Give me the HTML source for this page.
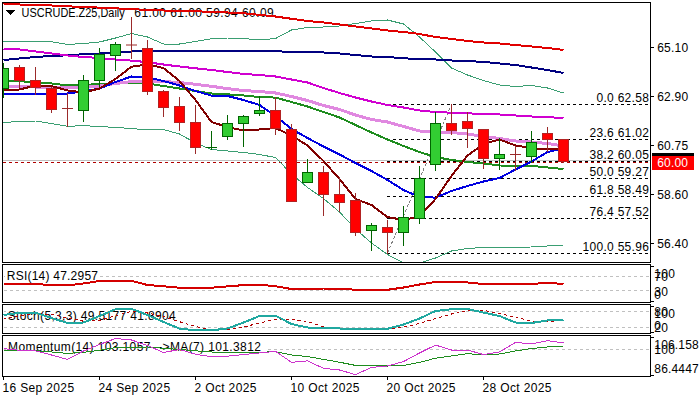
<!DOCTYPE html><html><head><meta charset="utf-8"><title>USCRUDE.Z25 Daily</title><style>html,body{margin:0;padding:0;background:#fff;overflow:hidden}svg{display:block}text{font-family:"Liberation Sans", Arial, sans-serif;font-size:12px;fill:#000;white-space:pre}</style></head><body>
<svg xmlns="http://www.w3.org/2000/svg" shape-rendering="crispEdges" width="700" height="400" viewBox="0 0 700 400">
<rect x="0" y="0" width="700" height="400" fill="#fff"/>
<defs><clipPath id="cm"><rect x="3" y="3" width="647" height="259"/></clipPath><clipPath id="cr"><rect x="3" y="265" width="647" height="37"/></clipPath><clipPath id="cs"><rect x="3" y="305" width="647" height="28"/></clipPath><clipPath id="cmo"><rect x="3" y="336" width="647" height="40"/></clipPath></defs>
<path d="M6,10 L15,10 L10.5,15 Z" fill="#000"/>
<text x="21.60" y="16.6" textLength="103.10" lengthAdjust="spacingAndGlyphs">USCRUDE.Z25,Daily</text>
<text x="134.30" y="16.5" letter-spacing="0.421">61.00 61.00 59.94 60.09</text>
<g clip-path="url(#cm)">
<line x1="3" y1="160.5" x2="650" y2="160.5" stroke="#c0c0c0" stroke-width="1"/>
<line x1="3" y1="162.5" x2="650" y2="162.5" stroke="#b00000" stroke-width="1" stroke-dasharray="3,3"/>
<line x1="387" y1="104.5" x2="650" y2="104.5" stroke="#000" stroke-width="1" stroke-dasharray="3,3"/>
<line x1="387" y1="139.5" x2="650" y2="139.5" stroke="#000" stroke-width="1" stroke-dasharray="3,3"/>
<line x1="387" y1="161.5" x2="650" y2="161.5" stroke="#000" stroke-width="1" stroke-dasharray="3,3"/>
<line x1="387" y1="178.5" x2="650" y2="178.5" stroke="#000" stroke-width="1" stroke-dasharray="3,3"/>
<line x1="387" y1="196.5" x2="650" y2="196.5" stroke="#000" stroke-width="1" stroke-dasharray="3,3"/>
<line x1="387" y1="218.5" x2="650" y2="218.5" stroke="#000" stroke-width="1" stroke-dasharray="3,3"/>
<line x1="387" y1="253.5" x2="650" y2="253.5" stroke="#000" stroke-width="1" stroke-dasharray="3,3"/>
<line x1="387.5" y1="253" x2="451.5" y2="104.5" stroke="#808080" stroke-width="1" stroke-dasharray="3,2"/>
<polyline fill="none" stroke="#3a9e72" stroke-width="1" stroke-linejoin="round" points="3.5,41.8 19.5,41.5 35.5,42.0 51.5,41.7 67.5,44.5 83.5,43.5 99.5,42.0 115.5,38.0 131.5,33.5 147.5,37.0 163.5,44.0 179.5,44.0 195.5,41.5 211.5,38.8 227.5,38.0 243.5,38.5 259.5,40.0 275.5,38.5 291.5,30.0 307.5,27.5 323.5,27.0 339.5,26.0 355.5,23.5 371.5,21.0 387.5,20.0 403.5,24.0 419.5,37.0 435.5,52.0 451.5,68.0 467.5,75.0 483.5,80.5 499.5,85.0 515.5,86.5 531.5,85.5 547.5,88.0 563.5,93.0"/>
<polyline fill="none" stroke="#3a9e72" stroke-width="1" stroke-linejoin="round" points="3.5,122.5 19.5,121.5 35.5,121.0 51.5,123.5 67.5,126.3 83.5,125.7 99.5,126.5 115.5,127.5 131.5,128.5 147.5,130.0 163.5,129.6 179.5,134.0 195.5,143.0 211.5,149.5 227.5,151.0 243.5,152.5 259.5,154.5 275.5,157.5 291.5,174.0 307.5,187.5 323.5,198.5 339.5,212.0 355.5,229.0 371.5,243.0 387.5,254.5 403.5,263.0 419.5,263.0 435.5,258.0 451.5,251.0 467.5,248.5 483.5,247.5 499.5,247.5 515.5,247.2 531.5,247.0 547.5,246.0 563.5,245.0"/>
<polyline fill="none" stroke="#e00000" stroke-width="2" stroke-linejoin="round" points="3.5,3.5 19.5,4.5 35.5,5.0 51.5,5.5 67.5,6.3 83.5,7.0 99.5,7.6 115.5,8.3 131.5,9.2 147.5,9.9 163.5,10.5 179.5,11.0 195.5,11.3 211.5,11.8 227.5,12.5 243.5,13.3 259.5,14.8 275.5,16.5 291.5,18.8 307.5,21.0 323.5,22.5 339.5,24.5 355.5,26.5 371.5,28.5 387.5,30.5 403.5,32.0 419.5,34.0 435.5,37.0 451.5,39.0 467.5,41.0 483.5,42.5 499.5,43.5 515.5,45.0 531.5,46.5 547.5,48.0 563.5,50.0"/>
<polyline fill="none" stroke="#000080" stroke-width="2" stroke-linejoin="round" points="3.5,60.0 19.5,58.5 35.5,57.0 51.5,56.0 67.5,55.3 83.5,54.2 99.5,53.5 115.5,52.5 131.5,51.5 147.5,51.0 163.5,50.8 179.5,50.6 195.5,50.7 211.5,51.0 227.5,51.0 243.5,51.0 259.5,51.0 275.5,51.3 291.5,51.8 307.5,52.0 323.5,52.5 339.5,53.5 355.5,55.0 371.5,56.5 387.5,57.0 403.5,58.3 419.5,59.0 435.5,59.5 451.5,60.5 467.5,61.2 483.5,61.8 499.5,63.5 515.5,65.0 531.5,67.5 547.5,70.0 563.5,73.0"/>
<polyline fill="none" stroke="#1e8c1e" stroke-width="2" stroke-linejoin="round" points="3.5,81.3 19.5,81.3 35.5,82.0 51.5,83.5 67.5,85.4 83.5,85.0 99.5,84.0 115.5,83.5 131.5,83.0 147.5,83.5 163.5,86.0 179.5,88.5 195.5,91.0 211.5,93.5 227.5,94.3 243.5,95.5 259.5,97.0 275.5,97.6 291.5,102.0 307.5,106.5 323.5,112.0 339.5,117.5 355.5,125.0 371.5,132.5 387.5,139.5 403.5,146.0 419.5,152.0 435.5,157.0 451.5,160.0 467.5,162.0 483.5,163.5 499.5,165.5 515.5,165.7 531.5,165.8 547.5,167.5 563.5,169.0"/>
<polyline fill="none" stroke="#e088e0" stroke-width="3" stroke-linejoin="round" points="3.5,86.5 19.5,86.5 35.5,87.0 51.5,87.8 67.5,87.8 83.5,87.3 99.5,86.0 115.5,83.5 131.5,81.6 147.5,81.5 163.5,81.6 179.5,82.5 195.5,84.3 211.5,86.3 227.5,88.6 243.5,90.6 259.5,91.5 275.5,93.0 291.5,96.5 307.5,100.5 323.5,105.5 339.5,109.5 355.5,115.0 371.5,119.5 387.5,122.0 403.5,126.5 419.5,131.0 435.5,132.0 451.5,132.5 467.5,134.0 483.5,136.5 499.5,138.5 515.5,141.0 531.5,142.0 547.5,143.5 563.5,146.0"/>
<polyline fill="none" stroke="#d000d0" stroke-width="2" stroke-linejoin="round" points="3.5,48.8 19.5,49.5 35.5,51.5 51.5,53.5 67.5,55.5 83.5,57.0 99.5,58.0 115.5,59.5 131.5,60.6 147.5,62.2 163.5,64.5 179.5,66.5 195.5,68.3 211.5,70.0 227.5,72.0 243.5,74.0 259.5,75.0 275.5,76.5 291.5,79.5 307.5,82.5 323.5,88.0 339.5,93.0 355.5,97.5 371.5,101.5 387.5,105.0 403.5,107.5 419.5,110.5 435.5,112.0 451.5,112.7 467.5,113.3 483.5,114.0 499.5,114.5 515.5,115.5 531.5,116.5 547.5,117.2 563.5,118.0"/>
<polyline fill="none" stroke="#0000e0" stroke-width="2" stroke-linejoin="round" points="3.5,93.5 19.5,93.5 35.5,93.5 51.5,93.5 67.5,93.5 83.5,91.5 99.5,88.6 115.5,82.0 131.5,76.5 147.5,77.5 163.5,81.0 179.5,85.5 195.5,91.0 211.5,95.6 227.5,96.0 243.5,100.0 259.5,105.0 275.5,116.0 291.5,129.0 307.5,138.0 323.5,146.5 339.5,154.5 355.5,163.0 371.5,171.0 387.5,180.0 403.5,190.0 419.5,197.0 435.5,197.6 451.5,191.0 467.5,186.0 483.5,181.5 499.5,178.0 515.5,169.5 531.5,161.5 547.5,152.0 563.5,148.5"/>
<polyline fill="none" stroke="#800000" stroke-width="2" stroke-linejoin="round" points="3.5,90.0 19.5,89.5 35.5,85.5 51.5,86.0 67.5,90.5 83.5,92.5 99.5,88.5 115.5,79.0 131.5,66.7 147.5,64.5 163.5,68.0 179.5,81.0 195.5,100.0 211.5,122.0 227.5,127.0 243.5,130.5 259.5,129.5 275.5,128.0 291.5,135.5 307.5,145.5 323.5,161.0 339.5,179.0 355.5,199.0 371.5,205.0 387.5,217.0 403.5,220.0 419.5,216.5 435.5,199.0 451.5,176.0 467.5,155.5 483.5,144.0 499.5,139.5 515.5,145.5 531.5,148.0 547.5,149.5 563.5,149.0"/>
<rect x="3" y="63" width="1" height="35" fill="#006400"/>
<rect x="-2" y="68" width="11" height="21" fill="#006400"/>
<rect x="-1" y="69" width="9" height="19" fill="#32cd32"/>
<rect x="19" y="65" width="1" height="23" fill="#9b2a2a"/>
<rect x="14" y="67" width="11" height="14" fill="#b22222"/>
<rect x="15" y="68" width="9" height="12" fill="#ff0000"/>
<rect x="35" y="67" width="1" height="28" fill="#9b2a2a"/>
<rect x="30" y="80" width="11" height="8" fill="#b22222"/>
<rect x="31" y="81" width="9" height="6" fill="#ff0000"/>
<rect x="51" y="87" width="1" height="26" fill="#9b2a2a"/>
<rect x="46" y="88" width="11" height="22" fill="#b22222"/>
<rect x="47" y="89" width="9" height="20" fill="#ff0000"/>
<rect x="67" y="93" width="1" height="34" fill="#9b2a2a"/>
<rect x="62" y="108" width="11" height="1" fill="#9b2a2a"/>
<rect x="83" y="75" width="1" height="47" fill="#006400"/>
<rect x="78" y="80" width="11" height="31" fill="#006400"/>
<rect x="79" y="81" width="9" height="29" fill="#32cd32"/>
<rect x="99" y="48" width="1" height="39" fill="#006400"/>
<rect x="94" y="54" width="11" height="27" fill="#006400"/>
<rect x="95" y="55" width="9" height="25" fill="#32cd32"/>
<rect x="115" y="42" width="1" height="29" fill="#006400"/>
<rect x="110" y="44" width="11" height="12" fill="#006400"/>
<rect x="111" y="45" width="9" height="10" fill="#32cd32"/>
<rect x="131" y="17" width="1" height="42" fill="#9b2a2a"/>
<rect x="126" y="44.5" width="11" height="1" fill="#9b2a2a" shape-rendering="auto"/>
<rect x="147" y="40" width="1" height="55" fill="#9b2a2a"/>
<rect x="142" y="48" width="11" height="44" fill="#b22222"/>
<rect x="143" y="49" width="9" height="42" fill="#ff0000"/>
<rect x="163" y="90" width="1" height="27" fill="#9b2a2a"/>
<rect x="158" y="91" width="11" height="17" fill="#b22222"/>
<rect x="159" y="92" width="9" height="15" fill="#ff0000"/>
<rect x="179" y="97" width="1" height="34" fill="#9b2a2a"/>
<rect x="174" y="106" width="11" height="17" fill="#b22222"/>
<rect x="175" y="107" width="9" height="15" fill="#ff0000"/>
<rect x="195" y="105" width="1" height="49" fill="#9b2a2a"/>
<rect x="190" y="122" width="11" height="26" fill="#b22222"/>
<rect x="191" y="123" width="9" height="24" fill="#ff0000"/>
<rect x="211" y="131" width="1" height="19" fill="#006400"/>
<rect x="206" y="147" width="11" height="1" fill="#006400"/>
<rect x="227" y="115" width="1" height="25" fill="#006400"/>
<rect x="222" y="123" width="11" height="14" fill="#006400"/>
<rect x="223" y="124" width="9" height="12" fill="#32cd32"/>
<rect x="243" y="115" width="1" height="32" fill="#006400"/>
<rect x="238" y="116" width="11" height="8" fill="#006400"/>
<rect x="239" y="117" width="9" height="6" fill="#32cd32"/>
<rect x="259" y="96" width="1" height="20" fill="#006400"/>
<rect x="254" y="110" width="11" height="4" fill="#006400"/>
<rect x="255" y="111" width="9" height="2" fill="#32cd32"/>
<rect x="275" y="97" width="1" height="38" fill="#9b2a2a"/>
<rect x="270" y="110" width="11" height="19" fill="#b22222"/>
<rect x="271" y="111" width="9" height="17" fill="#ff0000"/>
<rect x="291" y="124" width="1" height="78" fill="#9b2a2a"/>
<rect x="286" y="129" width="11" height="73" fill="#b22222"/>
<rect x="287" y="130" width="9" height="71" fill="#ff0000"/>
<rect x="307" y="159" width="1" height="24" fill="#006400"/>
<rect x="302" y="172" width="11" height="11" fill="#006400"/>
<rect x="303" y="173" width="9" height="9" fill="#32cd32"/>
<rect x="323" y="166" width="1" height="50" fill="#9b2a2a"/>
<rect x="318" y="172" width="11" height="23" fill="#b22222"/>
<rect x="319" y="173" width="9" height="21" fill="#ff0000"/>
<rect x="339" y="177" width="1" height="35" fill="#9b2a2a"/>
<rect x="334" y="194" width="11" height="9" fill="#b22222"/>
<rect x="335" y="195" width="9" height="7" fill="#ff0000"/>
<rect x="355" y="193" width="1" height="43" fill="#9b2a2a"/>
<rect x="350" y="200" width="11" height="33" fill="#b22222"/>
<rect x="351" y="201" width="9" height="31" fill="#ff0000"/>
<rect x="371" y="223" width="1" height="28" fill="#006400"/>
<rect x="366" y="225" width="11" height="6" fill="#006400"/>
<rect x="367" y="226" width="9" height="4" fill="#32cd32"/>
<rect x="387" y="220" width="1" height="34" fill="#9b2a2a"/>
<rect x="382" y="227" width="11" height="6" fill="#b22222"/>
<rect x="383" y="228" width="9" height="4" fill="#ff0000"/>
<rect x="403" y="206" width="1" height="40" fill="#006400"/>
<rect x="398" y="217" width="11" height="16" fill="#006400"/>
<rect x="399" y="218" width="9" height="14" fill="#32cd32"/>
<rect x="419" y="166" width="1" height="58" fill="#006400"/>
<rect x="414" y="178" width="11" height="41" fill="#006400"/>
<rect x="415" y="179" width="9" height="39" fill="#32cd32"/>
<rect x="435" y="112" width="1" height="59" fill="#006400"/>
<rect x="430" y="123" width="11" height="42" fill="#006400"/>
<rect x="431" y="124" width="9" height="40" fill="#32cd32"/>
<rect x="451" y="104" width="1" height="31" fill="#9b2a2a"/>
<rect x="446" y="123" width="11" height="8" fill="#b22222"/>
<rect x="447" y="124" width="9" height="6" fill="#ff0000"/>
<rect x="467" y="112" width="1" height="36" fill="#9b2a2a"/>
<rect x="462" y="121" width="11" height="8" fill="#b22222"/>
<rect x="463" y="122" width="9" height="6" fill="#ff0000"/>
<rect x="483" y="129" width="1" height="40" fill="#9b2a2a"/>
<rect x="478" y="129" width="11" height="30" fill="#b22222"/>
<rect x="479" y="130" width="9" height="28" fill="#ff0000"/>
<rect x="499" y="138" width="1" height="32" fill="#006400"/>
<rect x="494" y="154" width="11" height="5" fill="#006400"/>
<rect x="495" y="155" width="9" height="3" fill="#32cd32"/>
<rect x="515" y="146" width="1" height="25" fill="#9b2a2a"/>
<rect x="510" y="154" width="11" height="1" fill="#9b2a2a"/>
<rect x="531" y="131" width="1" height="32" fill="#006400"/>
<rect x="526" y="142" width="11" height="15" fill="#006400"/>
<rect x="527" y="143" width="9" height="13" fill="#32cd32"/>
<rect x="547" y="127" width="1" height="25" fill="#9b2a2a"/>
<rect x="542" y="133" width="11" height="7" fill="#b22222"/>
<rect x="543" y="134" width="9" height="5" fill="#ff0000"/>
<rect x="563" y="139" width="1" height="24" fill="#9b2a2a"/>
<rect x="558" y="139" width="11" height="23" fill="#b22222"/>
<rect x="559" y="140" width="9" height="21" fill="#ff0000"/>
</g>
<text x="596.43" y="101.5" letter-spacing="0.300">0.0 62.58</text>
<text x="589.46" y="137" letter-spacing="0.300">23.6 61.02</text>
<text x="589.46" y="159" letter-spacing="0.300">38.2 60.05</text>
<text x="589.46" y="175.5" letter-spacing="0.300">50.0 59.27</text>
<text x="589.46" y="194" letter-spacing="0.300">61.8 58.49</text>
<text x="589.46" y="216" letter-spacing="0.300">76.4 57.52</text>
<text x="582.48" y="250.5" letter-spacing="0.300">100.0 55.96</text>
<g clip-path="url(#cr)">
<line x1="4" y1="276.5" x2="650" y2="276.5" stroke="#c0c0c0" stroke-width="1" stroke-dasharray="3,3"/>
<line x1="4" y1="290.5" x2="650" y2="290.5" stroke="#c0c0c0" stroke-width="1" stroke-dasharray="3,3"/>
<rect x="5" y="269" width="95" height="13" fill="#fff"/>
<text x="6.80" y="279.5" letter-spacing="0.223">RSI(14) 47.2957</text>
<polyline fill="none" stroke="#d40000" stroke-width="2" points="3.5,283.7 19.5,283.7 35.5,283.7 51.5,285.4 67.5,285.4 83.5,283.5 99.5,281.0 115.5,280.6 131.5,280.8 147.5,285.0 163.5,286.3 179.5,287.7 195.5,287.7 211.5,287.7 227.5,286.4 243.5,285.1 259.5,284.6 275.5,286.3 291.5,289.0 307.5,289.0 323.5,288.5 339.5,288.5 355.5,289.8 371.5,289.8 387.5,289.8 403.5,287.5 419.5,284.5 435.5,282.0 451.5,282.0 467.5,282.5 483.5,284.0 499.5,284.0 515.5,284.0 531.5,284.0 547.5,282.8 563.5,284.0"/>
</g>
<g clip-path="url(#cs)">
<line x1="4" y1="311.5" x2="650" y2="311.5" stroke="#c0c0c0" stroke-width="1" stroke-dasharray="3,3"/>
<line x1="4" y1="327.5" x2="650" y2="327.5" stroke="#c0c0c0" stroke-width="1" stroke-dasharray="3,3"/>
<rect x="6" y="309" width="172" height="13" fill="#fff"/>
<text x="7.70" y="319.5" letter-spacing="0.340">Stoch(5,3,3) 49.5177 41.8904</text>
<polyline fill="none" stroke="#b00000" stroke-width="1" stroke-dasharray="3,3" points="3.5,318.3 19.5,316.0 35.5,313.5 51.5,314.5 67.5,317.9 83.5,321.2 99.5,320.5 115.5,315.8 131.5,311.4 147.5,313.0 163.5,316.5 179.5,321.7 195.5,326.5 211.5,330.0 227.5,329.5 243.5,327.0 259.5,323.0 275.5,319.2 291.5,319.2 307.5,321.5 323.5,327.0 339.5,328.5 355.5,329.0 371.5,329.0 387.5,328.8 403.5,327.0 419.5,323.5 435.5,318.5 451.5,314.0 467.5,311.0 483.5,310.4 499.5,313.5 515.5,317.4 531.5,321.0 547.5,322.0 563.5,320.4"/>
<polyline fill="none" stroke="#20a8a0" stroke-width="2" points="3.5,314.9 19.5,313.0 35.5,312.6 51.5,318.0 67.5,323.0 83.5,322.5 99.5,316.0 115.5,309.2 131.5,308.9 147.5,315.0 163.5,322.0 179.5,328.6 195.5,330.3 211.5,330.3 227.5,328.5 243.5,322.5 259.5,316.0 275.5,315.7 291.5,324.0 307.5,327.5 323.5,328.0 339.5,328.5 355.5,329.4 371.5,329.4 387.5,328.8 403.5,324.5 419.5,318.5 435.5,311.0 451.5,309.2 467.5,309.0 483.5,312.6 499.5,316.0 515.5,322.5 531.5,323.0 547.5,320.4 563.5,319.6"/>
</g>
<g clip-path="url(#cmo)">
<line x1="4" y1="349.5" x2="650" y2="349.5" stroke="#c0c0c0" stroke-width="1" stroke-dasharray="3,3"/>
<rect x="6" y="340" width="259" height="13" fill="#fff"/>
<text x="8.10" y="350.75" letter-spacing="0.377">Momentum(14) 103.1057  -&gt;MA(7) 101.3812</text>
<polyline fill="none" stroke="#1e8c1e" stroke-width="1" points="3.5,350.6 19.5,350.6 35.5,350.6 51.5,352.0 67.5,353.4 83.5,352.3 99.5,350.3 115.5,347.5 131.5,347.2 147.5,347.0 163.5,348.3 179.5,349.5 195.5,350.8 211.5,352.0 227.5,353.0 243.5,352.7 259.5,352.3 275.5,351.7 291.5,355.0 307.5,356.5 323.5,359.4 339.5,362.2 355.5,365.4 371.5,365.6 387.5,366.0 403.5,365.4 419.5,362.4 435.5,358.2 451.5,356.0 467.5,353.6 483.5,355.0 499.5,354.0 515.5,351.0 531.5,348.5 547.5,347.0 563.5,346.4"/>
<polyline fill="none" stroke="#cc33cc" stroke-width="1" points="3.5,348.6 19.5,350.3 35.5,350.8 51.5,355.0 67.5,359.4 83.5,351.0 99.5,344.5 115.5,338.5 131.5,340.0 147.5,345.5 163.5,352.5 179.5,349.5 195.5,354.2 211.5,356.8 227.5,356.2 243.5,354.5 259.5,353.0 275.5,351.3 291.5,362.3 307.5,360.9 323.5,368.3 339.5,370.0 355.5,374.6 371.5,367.4 387.5,366.0 403.5,361.6 419.5,353.0 435.5,345.1 451.5,350.0 467.5,350.0 483.5,354.6 499.5,352.0 515.5,342.4 531.5,344.0 547.5,340.6 563.5,343.0"/>
</g>
<rect x="2.5" y="2.5" width="648" height="260" fill="none" stroke="#000" stroke-width="1"/>
<rect x="2.5" y="264.5" width="648" height="38" fill="none" stroke="#000" stroke-width="1"/>
<rect x="2.5" y="304.5" width="648" height="29" fill="none" stroke="#000" stroke-width="1"/>
<rect x="2.5" y="335.5" width="648" height="41" fill="none" stroke="#000" stroke-width="1"/>
<rect x="651" y="47.0" width="3" height="1" fill="#000"/>
<text x="657.20" y="51.8" letter-spacing="0.211">65.10</text>
<rect x="651" y="96.0" width="3" height="1" fill="#000"/>
<text x="657.20" y="100.8" letter-spacing="0.211">62.90</text>
<rect x="651" y="145.0" width="3" height="1" fill="#000"/>
<text x="657.20" y="149.8" letter-spacing="0.211">60.75</text>
<rect x="651" y="194.0" width="3" height="1" fill="#000"/>
<text x="657.20" y="198.8" letter-spacing="0.211">58.60</text>
<rect x="651" y="243.0" width="3" height="1" fill="#000"/>
<text x="657.20" y="247.8" letter-spacing="0.211">56.40</text>
<rect x="652" y="153" width="42" height="3" fill="#000"/>
<rect x="652" y="156" width="42" height="14" fill="#ff0000"/>
<text x="657.20" y="166.8" letter-spacing="0.186" style="fill:#fff;">60.00</text>
<rect x="651" y="266" width="3" height="1" fill="#000"/><rect x="651" y="301" width="3" height="1" fill="#000"/>
<text x="654.30" y="277.6" letter-spacing="0.300">100</text><text x="654.30" y="280.9" letter-spacing="0.300">70</text><text x="654.30" y="295.6" letter-spacing="0.300">30</text><text x="654.30" y="298.7" letter-spacing="0.300">0</text>
<rect x="651" y="306" width="3" height="1" fill="#000"/><rect x="651" y="332" width="3" height="1" fill="#000"/>
<text x="654.30" y="316" letter-spacing="0.300">80</text><text x="654.30" y="318" letter-spacing="0.300">100</text><text x="654.30" y="331.5" letter-spacing="0.300">20</text><text x="654.30" y="329.5" letter-spacing="0.300">0</text>
<rect x="651" y="337" width="3" height="1" fill="#000"/><rect x="651" y="375" width="3" height="1" fill="#000"/>
<text x="654.30" y="348.6" letter-spacing="0.166">106.158</text><text x="654.30" y="354" letter-spacing="0.300">100</text><text x="654.30" y="372.6" letter-spacing="0.166">86.4447</text>
<rect x="3" y="377" width="1" height="3" fill="#000"/>
<text x="2.50" y="392" letter-spacing="0.350">16 Sep 2025</text>
<rect x="99" y="377" width="1" height="3" fill="#000"/>
<text x="98.50" y="392" letter-spacing="0.350">24 Sep 2025</text>
<rect x="195" y="377" width="1" height="3" fill="#000"/>
<text x="194.50" y="392" letter-spacing="0.350">2 Oct 2025</text>
<rect x="291" y="377" width="1" height="3" fill="#000"/>
<text x="290.50" y="392" letter-spacing="0.350">10 Oct 2025</text>
<rect x="387" y="377" width="1" height="3" fill="#000"/>
<text x="386.50" y="392" letter-spacing="0.350">20 Oct 2025</text>
<rect x="483" y="377" width="1" height="3" fill="#000"/>
<text x="482.50" y="392" letter-spacing="0.350">28 Oct 2025</text>
</svg></body></html>
